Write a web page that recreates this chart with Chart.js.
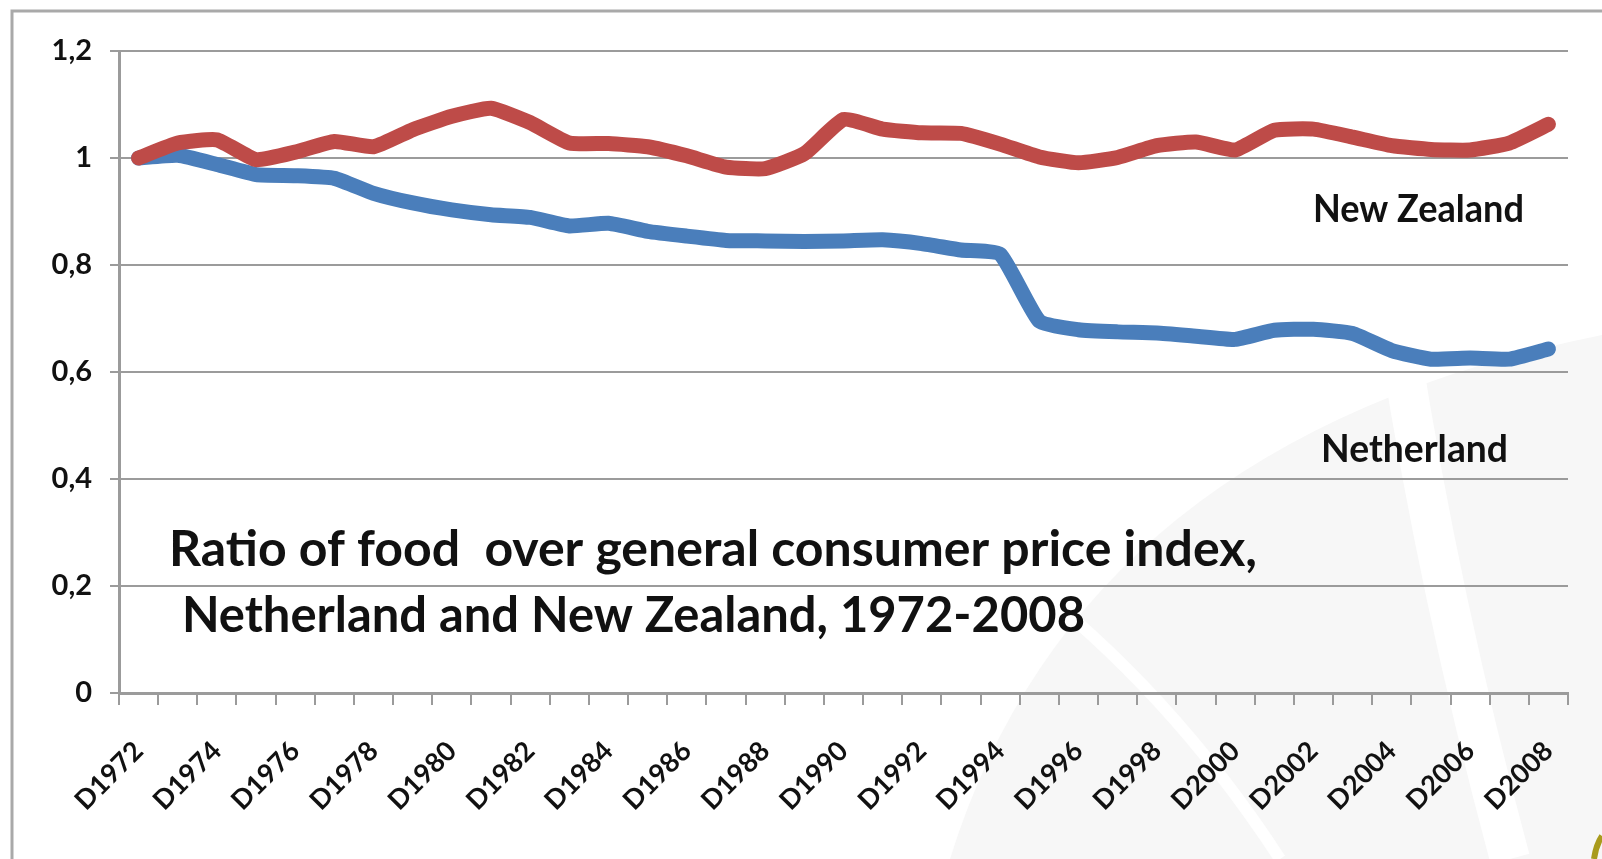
<!DOCTYPE html>
<html>
<head>
<meta charset="utf-8">
<title>Ratio of food over general consumer price index</title>
<script src="https://cdn.jsdelivr.net/npm/chart.js@4.4.1/dist/chart.umd.min.js"></script>
<style>
  html, body { margin: 0; padding: 0; background: #fff; }
  #wrap { width: 1602px; height: 859px; position: relative; }
</style>
</head>
<body>
<div id="wrap"><canvas id="foodChart"></canvas></div>
<script>
// Categories (one per year)
const years = [
  "D1972", "D1973", "D1974", "D1975", "D1976", "D1977", "D1978", "D1979",
  "D1980", "D1981", "D1982", "D1983", "D1984", "D1985", "D1986", "D1987",
  "D1988", "D1989", "D1990", "D1991", "D1992", "D1993", "D1994", "D1995",
  "D1996", "D1997", "D1998", "D1999", "D2000", "D2001", "D2002", "D2003",
  "D2004", "D2005", "D2006", "D2007", "D2008"
];

// Ratio food CPI / general CPI
const newZealand = [
  1.000, 1.028, 1.034, 0.997, 1.011, 1.031, 1.021, 1.053,
  1.078, 1.093, 1.066, 1.028, 1.027, 1.021, 1.004, 0.983,
  0.980, 1.008, 1.072, 1.054, 1.047, 1.046, 1.026, 1.002,
  0.991, 1.001, 1.023, 1.030, 1.015, 1.052, 1.054, 1.039,
  1.023, 1.016, 1.015, 1.028, 1.063
];

const netherland = [
  1.000, 1.005, 0.988, 0.969, 0.967, 0.962, 0.934, 0.916,
  0.903, 0.894, 0.889, 0.873, 0.878, 0.863, 0.854, 0.846,
  0.845, 0.844, 0.845, 0.847, 0.840, 0.828, 0.820, 0.695,
  0.679, 0.675, 0.673, 0.667, 0.661, 0.678, 0.680, 0.672,
  0.640, 0.624, 0.626, 0.624, 0.643
];

// y axis ticks
const yTicks = [0, 0.2, 0.4, 0.6, 0.8, 1, 1.2];

const titleLines = [
  "Ratio of food  over general consumer price index,",
  " Netherland and New Zealand, 1972-2008"
];

const gridColor = "#9b9b9b";
const textColor = "#111111";

//Draws a bold text squeezed to a given width (the source text is narrow)
function drawNarrowText(ctx, text, x, y, size, width) {
  ctx.save();
  ctx.font = "bold " + size + "px Lato";
  ctx.fillStyle = textColor;
  ctx.textBaseline = "alphabetic";
  ctx.textAlign = "left";
  const w = ctx.measureText(text).width;
  ctx.translate(x, y);
  ctx.scale(width / w, 1);
  ctx.fillText(text, 0, 0);
  ctx.restore();
}

//Background: white, faint watermark and the slide frame
const backdrop = {
  id: "backdrop",
  beforeDraw(chart) {
    const ctx = chart.ctx;
    ctx.save();
    ctx.fillStyle = "#ffffff";
    ctx.fillRect(0, 0, chart.width, chart.height);

    // faint watermark in the lower right
    ctx.fillStyle = "#f7f7f7";
    ctx.beginPath();
    ctx.moveTo(950, 859);
    ctx.quadraticCurveTo(1080, 440, 1602, 335);
    ctx.lineTo(1602, 859);
    ctx.closePath();
    ctx.fill();

    ctx.strokeStyle = "#ffffff";
    ctx.lineWidth = 12;
    ctx.beginPath();
    ctx.moveTo(1020, 575);
    ctx.quadraticCurveTo(1170, 690, 1280, 859);
    ctx.stroke();

    ctx.lineWidth = 40;
    ctx.beginPath();
    ctx.moveTo(1400, 345);
    ctx.quadraticCurveTo(1440, 600, 1510, 859);
    ctx.stroke();

    // olive corner mark
    ctx.strokeStyle = "#a99b1c";
    ctx.lineWidth = 6;
    ctx.beginPath();
    ctx.moveTo(1594, 859);
    ctx.quadraticCurveTo(1596, 845, 1602, 836);
    ctx.stroke();

    // frame
    ctx.strokeStyle = "#a9a9a9";
    ctx.lineWidth = 3;
    ctx.beginPath();
    ctx.moveTo(12, 859);
    ctx.lineTo(12, 11);
    ctx.lineTo(1602, 11);
    ctx.stroke();
    ctx.restore();
  }
};

//Title inside the plot and the series labels
const annotations = {
  id: "annotations",
  afterDraw(chart) {
    const ctx = chart.ctx;
    drawNarrowText(ctx, titleLines[0], 169, 566, 50, 1088);
    drawNarrowText(ctx, titleLines[1], 170, 632, 50, 915);
    drawNarrowText(ctx, "New Zealand", 1313, 222, 38, 211);
    drawNarrowText(ctx, "Netherland", 1321, 462, 38, 187);
  }
};

const canvas = document.getElementById("foodChart");

new Chart(canvas, {
  type: "line",
  data: {
    labels: years,
    datasets: [
      {
        label: "New Zealand",
        data: newZealand,
        borderColor: "#be4b48",
        borderWidth: 15,
      },
      {
        label: "Netherland",
        data: netherland,
        borderColor: "#4a7ebb",
        borderWidth: 15,
      },
    ],
  },
  options: {
    responsive: true,
    maintainAspectRatio: false,
    animation: false,
    layout: {
      padding: {top: 51, right: 34, left: 0, bottom: 0},
    },
    elements: {
      point: {radius: 0, hoverRadius: 0},
      line: {tension: 0.15, borderJoinStyle: "round", borderCapStyle: "round", fill: false},
    },
    plugins: {
      legend: {display: false},
      tooltip: {enabled: false},
    },
    scales: {
      x: {
        offset: true,
        grid: {
          offset: true,
          drawOnChartArea: false,
          color: gridColor,
          lineWidth: 2,
          tickLength: 12,
        },
        border: {color: gridColor, width: 3},
        ticks: {
          autoSkip: false,
          maxRotation: 45,
          minRotation: 45,
          padding: 30,
          color: textColor,
          font: {family: "Lato", size: 27, weight: "bold"},
          callback(value, index) {
            return index % 2 === 0 ? this.getLabelForValue(value) : "";
          },
        },
        afterFit(scale) {
          scale.height = 166;
        },
      },
      y: {
        min: 0,
        max: 1.2,
        afterBuildTicks(scale) {
          scale.ticks = yTicks.map((v) => ({value: v}));
        },
        grid: {
          color: gridColor,
          lineWidth: 2,
          tickLength: 9,
        },
        border: {color: gridColor, width: 3},
        ticks: {
          padding: 18,
          color: textColor,
          font: {family: "Lato", size: 29, weight: "bold"},
          callback(value) {
            return String(Number(value.toFixed(1))).replace(".", ",");
          },
        },
        afterFit(scale) {
          scale.width = 119;
        },
      },
    },
  },
  plugins: [backdrop, annotations],
});
</script>
</body>
</html>
